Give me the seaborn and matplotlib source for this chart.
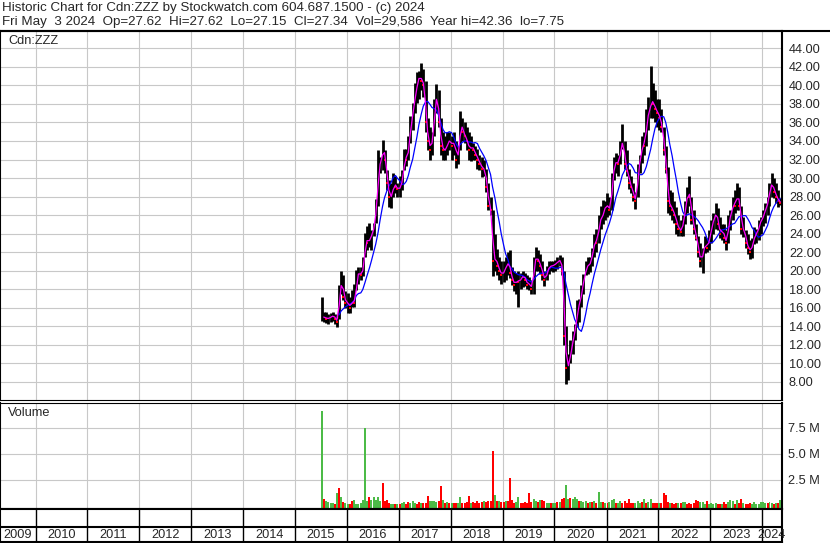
import numpy as np
import pandas as pd
import matplotlib
matplotlib.use("Agg")
import matplotlib.pyplot as plt
from matplotlib.lines import Line2D
import seaborn as sns

# semi-monthly bars (1st half / 2nd half of each month), Jul 2015 .. May 2024
high = [
    17.2, 15.6, 15.5, 15.3, 15.4, 15.6, 15.3, 14.9, 18.5, 20.0, 19.5, 17.8,  # 2015 (Jul-)
    17.6, 17.2, 17.9, 18.6, 20.1, 20.4, 20.4, 21.5, 24.1, 24.8, 25.1, 24.4,
    25.1, 27.7, 33.0, 32.3, 34.1, 33.0, 30.9, 29.8, 29.5, 30.5, 30.2, 29.5,  # 2016
    30.2, 30.9, 33.1, 33.1, 34.5, 36.7, 38.1, 40.3, 41.4, 41.5, 42.4, 41.8,
    40.5, 36.5, 35.5, 35.0, 38.5, 40.1, 39.5, 36.5, 35.0, 34.5, 35.0, 35.0,  # 2017
    34.5, 35.0, 34.0, 33.5, 37.2, 36.5, 36.0, 35.5, 35.0, 34.5, 33.8, 33.5,
    33.1, 32.5, 32.3, 32.0, 31.0, 29.5, 28.0, 26.5, 24.0, 22.3, 21.5, 21.0,  # 2018
    21.0, 21.5, 22.0, 22.2, 20.4, 20.0, 19.8, 20.0, 19.8, 20.0, 19.8, 19.5,
    19.3, 19.0, 21.5, 22.6, 22.2, 21.8, 21.0, 20.0, 20.5, 21.0, 21.1, 21.0,  # 2019
    21.2, 21.5, 21.7, 21.5, 20.0, 14.0, 11.0, 12.5, 13.5, 14.3, 16.8, 17.0,
    18.5, 19.7, 21.0, 21.5, 21.5, 22.5, 24.0, 24.5, 26.0, 27.0, 27.6, 27.5,  # 2020
    28.4, 28.0, 30.5, 32.3, 32.7, 32.5, 34.0, 35.8, 34.0, 33.0, 31.0, 30.2,
    29.5, 28.5, 31.5, 32.5, 34.5, 35.0, 37.4, 38.8, 42.1, 40.3, 39.5, 38.5,  # 2021
    38.5, 37.5, 35.5, 33.5, 31.2, 28.7, 28.5, 27.5, 26.9, 26.0, 25.5, 26.0,
    27.5, 29.0, 30.2, 28.0, 26.6, 25.0, 23.7, 23.0, 22.5, 23.7, 23.5, 24.4,  # 2022
    25.5, 26.2, 27.3, 26.8, 25.8, 25.0, 25.0, 24.4, 26.0, 26.5, 28.0, 28.7,
    29.5, 29.0, 27.0, 25.8, 24.4, 24.0, 23.3, 23.5, 24.7, 24.5, 25.5, 25.8,  # 2023
    26.5, 27.3, 28.0, 29.5, 30.6, 30.0, 29.5, 28.7, 27.8,                    # 2024
]
low = [
    14.6, 14.5, 14.4, 14.2, 14.5, 14.6, 14.3, 13.9, 14.8, 17.5, 16.8, 16.0,
    15.4, 15.4, 16.1, 16.1, 17.9, 18.6, 19.0, 19.4, 21.5, 22.2, 22.6, 22.2,
    23.7, 25.1, 27.0, 30.5, 30.9, 30.5, 28.7, 26.9, 26.8, 28.0, 28.4, 28.0,
    28.0, 28.7, 30.9, 31.3, 32.0, 33.8, 35.2, 37.0, 38.1, 38.5, 39.5, 38.8,
    35.0, 33.0, 32.0, 32.5, 34.5, 37.0, 35.5, 32.5, 32.0, 32.0, 32.5, 33.0,
    32.0, 32.5, 31.1, 31.5, 33.0, 34.0, 33.8, 33.0, 32.0, 31.8, 32.0, 32.0,
    31.0, 30.9, 30.1, 30.2, 28.5, 26.5, 26.0, 19.4, 20.0, 19.5, 19.0, 18.6,
    18.8, 19.0, 19.5, 19.2, 18.5, 17.8, 17.5, 16.1, 18.0, 18.2, 18.3, 18.0,
    17.9, 17.5, 17.5, 20.0, 20.0, 19.7, 19.0, 18.4, 19.0, 19.7, 20.0, 19.9,
    20.0, 20.2, 20.5, 19.5, 12.0, 7.75, 8.2, 10.0, 11.0, 12.5, 13.9, 14.5,
    16.1, 17.5, 19.5, 19.7, 19.9, 20.5, 21.5, 22.0, 23.0, 24.5, 25.0, 25.5,
    25.8, 26.0, 26.5, 29.8, 30.5, 30.2, 31.5, 33.1, 31.0, 30.2, 28.8, 28.4,
    27.5, 26.7, 28.0, 30.5, 31.6, 32.5, 33.5, 35.2, 36.5, 36.5, 36.0, 35.5,
    35.2, 35.0, 32.5, 30.5, 26.2, 26.0, 25.5, 25.1, 24.0, 23.7, 23.7, 23.8,
    25.0, 26.2, 27.0, 25.0, 24.0, 23.3, 21.5, 20.4, 19.8, 21.9, 22.0, 22.2,
    23.0, 24.0, 24.5, 24.4, 23.5, 23.3, 23.0, 22.2, 23.0, 24.4, 25.5, 26.2,
    26.5, 26.5, 24.0, 23.6, 22.5, 21.8, 21.3, 21.4, 22.9, 23.0, 23.3, 24.0,
    24.8, 25.1, 26.0, 27.0, 28.0, 27.8, 27.3, 26.9, 27.1,
]
close = [
    15.0, 15.0, 14.8, 14.9, 15.0, 15.2, 14.8, 14.5, 18.0, 18.8, 17.2, 16.5,
    16.5, 16.0, 17.0, 16.5, 19.5, 19.8, 19.5, 20.5, 23.5, 23.0, 23.5, 24.0,
    25.0, 27.0, 31.5, 31.5, 33.5, 32.0, 29.5, 28.0, 28.0, 29.5, 29.0, 28.8,
    29.0, 30.0, 32.5, 32.0, 33.5, 36.0, 37.5, 39.0, 40.5, 41.0, 40.5, 40.0,
    36.0, 34.0, 33.0, 34.5, 38.0, 39.0, 36.0, 33.5, 33.0, 33.0, 34.0, 34.0,
    33.5, 34.0, 32.0, 33.0, 36.0, 35.0, 34.5, 34.0, 33.0, 33.5, 33.0, 32.5,
    32.0, 31.5, 31.0, 31.0, 29.0, 27.0, 26.5, 21.0, 21.5, 20.5, 20.0, 19.5,
    20.0, 20.5, 21.0, 19.8, 19.0, 18.5, 19.0, 18.8, 19.2, 19.5, 19.0, 18.5,
    18.6, 18.0, 21.0, 21.5, 21.0, 20.5, 19.5, 19.0, 20.0, 20.5, 20.5, 20.6,
    20.8, 21.0, 21.2, 20.0, 13.0, 9.5, 10.0, 11.5, 12.8, 13.8, 16.0, 16.5,
    18.0, 19.2, 20.5, 20.5, 21.0, 22.0, 23.5, 23.0, 25.5, 25.5, 26.5, 27.0,
    27.0, 26.5, 30.0, 31.5, 31.8, 31.5, 33.5, 34.0, 31.5, 30.8, 29.5, 29.0,
    28.0, 27.5, 31.0, 32.0, 34.0, 33.5, 36.5, 37.0, 38.5, 38.0, 37.5, 37.0,
    36.5, 35.5, 33.0, 31.0, 27.5, 27.0, 26.5, 26.0, 25.0, 24.5, 24.2, 25.5,
    27.0, 28.5, 28.0, 25.5, 24.5, 23.5, 22.0, 21.0, 22.0, 23.0, 22.5, 23.5,
    25.0, 25.5, 26.5, 25.0, 24.0, 24.5, 23.5, 23.0, 25.5, 26.0, 27.5, 27.0,
    28.5, 27.0, 24.5, 24.5, 23.0, 22.5, 22.0, 23.0, 24.0, 24.0, 25.0, 25.5,
    26.0, 26.8, 27.5, 29.0, 29.5, 28.5, 28.0, 27.5, 27.34,
]
# volume in millions
volume = [
    9.1, 0.7, 0.45, 0.35, 0.3, 0.25, 0.15, 1.2, 1.7, 0.9, 0.4, 0.25,
    0.2, 0.15, 0.5, 0.6, 0.2, 0.15, 0.3, 0.55, 7.5, 0.5, 0.9, 0.6,
    0.9, 0.6, 0.9, 0.5, 2.2, 0.5, 0.6, 0.3, 0.2, 0.2, 0.15, 0.2,
    0.2, 0.3, 0.35, 0.2, 0.4, 0.3, 0.5, 0.3, 0.2, 0.4, 0.3, 0.25,
    0.3, 0.95, 0.5, 0.5, 0.5, 0.4, 0.5, 1.9, 0.6, 0.3, 0.4, 0.3,
    0.3, 0.25, 0.3, 0.25, 0.85, 0.3, 0.3, 0.4, 0.95, 0.3, 0.4, 0.3,
    0.5, 0.3, 0.4, 0.5, 0.4, 0.45, 0.5, 5.3, 1.0, 0.5, 0.5, 0.4,
    0.4, 0.5, 0.5, 2.7, 0.6, 0.3, 0.4, 0.85, 0.3, 0.3, 0.35, 0.3,
    1.2, 0.4, 0.7, 0.5, 0.4, 0.6, 0.6, 0.5, 0.3, 0.3, 0.25, 0.3,
    0.3, 0.4, 0.4, 0.7, 0.8, 2.0, 0.7, 0.8, 0.7, 0.9, 0.7, 0.5,
    0.5, 0.4, 0.5, 0.3, 0.35, 0.4, 0.5, 0.3, 1.3, 0.4, 0.4, 0.3,
    0.3, 0.4, 0.6, 0.7, 0.3, 0.3, 0.5, 0.3, 0.5, 0.3, 0.7, 0.3,
    0.3, 0.3, 0.5, 0.3, 0.4, 0.7, 0.3, 0.4, 0.7, 0.3, 0.3, 0.25,
    0.3, 0.3, 1.2, 1.0, 0.4, 0.3, 0.25, 0.2, 0.3, 0.25, 0.3, 0.4,
    0.35, 0.2, 0.25, 0.2, 0.3, 0.6, 0.45, 0.35, 0.4, 0.2, 0.5, 0.2,
    0.3, 0.2, 0.25, 0.2, 0.2, 0.2, 0.4, 0.2, 0.35, 0.6, 0.5, 0.2,
    0.6, 0.3, 0.7, 0.3, 0.2, 0.2, 0.25, 0.2, 0.4, 0.2, 0.2, 0.4,
    0.4, 0.3, 0.3, 0.35, 0.3, 0.2, 0.25, 0.3, 0.55,
]
# g = up period, r = down period
vol_color = (
    "grggggrgrgrg"                # 2015
    "grrgggggggrgggggrrrrggrg"    # 2016
    "rggrrgggrrgrrrggggrrgrgr"    # 2017
    "grrggrrrrgrrrrrgrrrrgrgr"    # 2018
    "rgrrrrggrrrrrrggrgrrggrg"    # 2019
    "grgrrggrgggrgggrgrgrggrg"    # 2020
    "rgggrggrrrrrrgggrgrggrrr"    # 2021
    "grrrrgrrrgrggrrrrrrgggrg"    # 2022
    "gggrrgrrgggrgrrgrrrggggg"    # 2023
    "ggrggrgrg"                   # 2024
)
years = list(range(2009, 2025))

dates = pd.date_range("2015-07-01", periods=len(close), freq="SMS") + pd.Timedelta(days=7)
df = pd.DataFrame({"date": dates, "high": high, "low": low, "close": close,
                   "volume": volume, "vcol": list(vol_color)})
df["ma_short"] = df.close.rolling(2).mean()
df["ma_long"] = df.close.rolling(9).mean()
df["down"] = df.close.diff() < 0

sns.set_style("white")
plt.rcParams["font.family"] = ["Liberation Sans", "DejaVu Sans"]
FS = 9.2
GRID = "#c8c8c8"

W, H = 830, 543
fig = plt.figure(figsize=(W / 100, H / 100), dpi=100)

def box(x0, y0, x1, y1):
    return [x0 / W, 1 - y1 / H, (x1 - x0) / W, (y1 - y0) / H]

xmin, xmax = pd.Timestamp("2009-04-26"), pd.Timestamp("2024-05-20")
year_starts = [pd.Timestamp(f"{y}-01-01") for y in years[1:]]

# ---- price panel
ax = fig.add_axes(box(0, 31, 782, 400))
ax.vlines(df.date, df.low, df.high, color="black", lw=2.0)
ax.plot(df.date[df.down], df.close[df.down], "s", color="red", ms=1.8, mew=0)
sns.lineplot(data=df, x="date", y="ma_long", color="#0000ff", lw=0.9, ax=ax)
sns.lineplot(data=df, x="date", y="ma_short", color="#ff00ff", lw=0.9, ax=ax)
ax.set_xlim(xmin, xmax)
ax.set_ylim(6.05, 45.87)
ax.set_yticks(np.arange(8, 45, 2))
ax.set_yticklabels([f"{v:.2f}" for v in np.arange(8, 45, 2)], fontsize=FS)
ax.yaxis.tick_right()
ax.tick_params(axis="y", length=0, pad=5)
ax.set_xticks(year_starts)
ax.tick_params(axis="x", length=0, labelbottom=False)
ax.grid(True, color=GRID, lw=0.8)
ax.set_axisbelow(True)
ax.set_xlabel("")
ax.set_ylabel("")
ax.text(8 / 782, 1 - 10 / 369, "Cdn:ZZZ", transform=ax.transAxes, fontsize=FS, va="center")

# ---- volume panel
axv = fig.add_axes(box(0, 402.5, 782, 509))
axv.bar(df.date, df.volume + 0.3, bottom=-0.3, width=14,
        color=df.vcol.map({"g": "#4cbb47", "r": "#ff0000"}), lw=0)
axv.set_xlim(xmin, xmax)
axv.set_ylim(-0.3, 9.95)
axv.set_yticks([2.5, 5.0, 7.5])
axv.set_yticklabels(["2.5 M", "5.0 M", "7.5 M"], fontsize=FS)
axv.yaxis.tick_right()
axv.tick_params(axis="y", length=0, pad=4)
axv.set_xticks(year_starts)
axv.tick_params(axis="x", length=0, labelbottom=False)
axv.grid(True, color=GRID, lw=0.8)
axv.set_axisbelow(True)
axv.text(8 / 782, 1 - 11 / 107, "Volume", transform=axv.transAxes, fontsize=FS, va="center")

# ---- year strip
axy = fig.add_axes(box(0, 509, 782, 541.5))
axy.set_xlim(xmin, xmax)
axy.set_ylim(0, 1)
axy.set_xticks([])
axy.set_yticks([])
for ys in year_starts:
    axy.axvline(ys, color="black", lw=1.0)
axy.axhline(0.45, color="black", lw=1.5)
edges = [xmin] + year_starts + [xmax]
for y, a, b in zip(years, edges[:-1], edges[1:]):
    axy.text(a + (b - a) / 2, 0.2, str(y), ha="center", va="center", fontsize=FS,
             clip_on=False, zorder=5)

for a in (ax, axv, axy):
    for s in a.spines.values():
        s.set_color("black")
        s.set_linewidth(1.5)
ax.spines["bottom"].set_linewidth(0.8)
axv.spines["top"].set_linewidth(0.8)

# ---- header
fig.add_artist(Line2D([0, 1], [1 - 30.5 / H] * 2, color="black", lw=1.5))
fig.text(2 / W, 1 - 8 / H, "Historic Chart for Cdn:ZZZ by Stockwatch.com 604.687.1500 - (c) 2024",
         fontsize=9.6, va="center")
fig.text(2 / W, 1 - 22 / H,
         "Fri May  3 2024  Op=27.62  Hi=27.62  Lo=27.15  Cl=27.34  Vol=29,586  Year hi=42.36  lo=7.75",
         fontsize=9.6, va="center")

fig.savefig("out.png", dpi=100)
